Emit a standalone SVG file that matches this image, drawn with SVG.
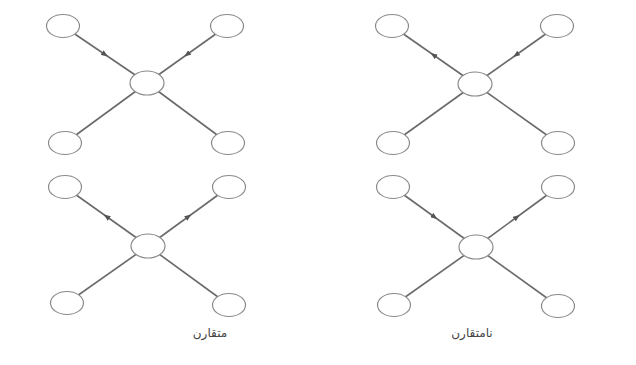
<svg xmlns="http://www.w3.org/2000/svg" width="636" height="365" viewBox="0 0 636 365">
<style>
.e{stroke:#6a6a6a;stroke-width:1.6;fill:none}
.a{marker-mid:url(#arr)}
.n{fill:#fff;stroke:#8a8a8a;stroke-width:1.2}
.c{fill:#fff;stroke:#8a8a8a;stroke-width:1.2}
text{font-family:"Noto Sans","DejaVu Sans",sans-serif;font-size:12px;fill:#444}
</style>
<defs>
<marker id="arr" viewBox="0 0 10 8" refX="5" refY="4" markerWidth="7" markerHeight="5.5" markerUnits="userSpaceOnUse" orient="auto">
<path d="M0,0 L10,4 L0,8 z" fill="#555"/>
</marker>
</defs>
<rect width="636" height="365" fill="#fff"/>
<g id="connectors">
<path class="e a" d="M63,26 L105,54.5 L147,83"/>
<path class="e a" d="M227,26 L187,54.5 L147,83"/>
<path class="e" d="M147,83 L65,143"/>
<path class="e" d="M147,83 L228,143"/>
<path class="e a" d="M475,84 L433.5,55 L392,26"/>
<path class="e a" d="M557,26 L516,55 L475,84"/>
<path class="e" d="M475,84 L393,143"/>
<path class="e" d="M475,84 L558,143"/>
<path class="e a" d="M148,246 L106.5,216.5 L65,187"/>
<path class="e a" d="M148,246 L188.5,216.5 L229,187"/>
<path class="e" d="M148,246 L67,303"/>
<path class="e" d="M148,246 L229,305"/>
<path class="e a" d="M393,187 L434.5,217 L476,247"/>
<path class="e a" d="M476,247 L517,217 L558,187"/>
<path class="e" d="M476,247 L394,305"/>
<path class="e" d="M476,247 L558,306"/>
</g>
<g id="g1-center"><ellipse class="c" cx="147" cy="83" rx="17" ry="12"/></g>
<g id="g1-tl"><ellipse class="n" cx="63" cy="26" rx="16.5" ry="11.5"/></g>
<g id="g1-tr"><ellipse class="n" cx="227" cy="26" rx="16.5" ry="11.5"/></g>
<g id="g1-bl"><ellipse class="n" cx="65" cy="143" rx="16.5" ry="11.5"/></g>
<g id="g1-br"><ellipse class="n" cx="228" cy="143" rx="16.5" ry="11.5"/></g>
<g id="g2-center"><ellipse class="c" cx="475" cy="84" rx="17" ry="12"/></g>
<g id="g2-tl"><ellipse class="n" cx="392" cy="26" rx="16.5" ry="11.5"/></g>
<g id="g2-tr"><ellipse class="n" cx="557" cy="26" rx="16.5" ry="11.5"/></g>
<g id="g2-bl"><ellipse class="n" cx="393" cy="143" rx="16.5" ry="11.5"/></g>
<g id="g2-br"><ellipse class="n" cx="558" cy="143" rx="16.5" ry="11.5"/></g>
<g id="g3-center"><ellipse class="c" cx="148" cy="246" rx="17" ry="12"/></g>
<g id="g3-tl"><ellipse class="n" cx="65" cy="187" rx="16.5" ry="11.5"/></g>
<g id="g3-tr"><ellipse class="n" cx="229" cy="187" rx="16.5" ry="11.5"/></g>
<g id="g3-bl"><ellipse class="n" cx="67" cy="303" rx="16.5" ry="11.5"/></g>
<g id="g3-br"><ellipse class="n" cx="229" cy="305" rx="16.5" ry="11.5"/></g>
<g id="g4-center"><ellipse class="c" cx="476" cy="247" rx="17" ry="12"/></g>
<g id="g4-tl"><ellipse class="n" cx="393" cy="187" rx="16.5" ry="11.5"/></g>
<g id="g4-tr"><ellipse class="n" cx="558" cy="187" rx="16.5" ry="11.5"/></g>
<g id="g4-bl"><ellipse class="n" cx="394" cy="305" rx="16.5" ry="11.5"/></g>
<g id="g4-br"><ellipse class="n" cx="558" cy="306" rx="16.5" ry="11.5"/></g>
<g id="labels">
<text x="210" y="337" text-anchor="middle" direction="rtl">متقارن</text>
<text x="472" y="337" text-anchor="middle" direction="rtl">نامتقارن</text>
</g>
</svg>
